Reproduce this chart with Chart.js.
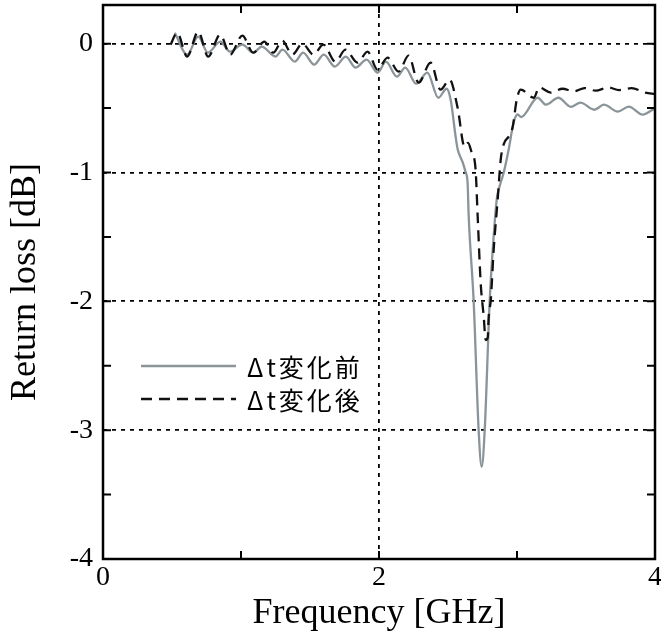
<!DOCTYPE html>
<html>
<head>
<meta charset="utf-8">
<script src="https://cdn.jsdelivr.net/npm/chart.js@4.4.1/dist/chart.umd.min.js"></script>
<style>
  body { margin: 0; background: #fff; }
  canvas { display: block; }
</style>
</head>
<body>
<canvas id="rl-chart" width="661" height="641"></canvas>
<script>
// Δt変化前 (gray, solid)
const freqBefore = [0.52, 0.61, 0.69, 0.76, 0.85, 0.92, 1.01, 1.09, 1.15, 1.25, 1.30, 1.39, 1.45, 1.53, 1.60, 1.68, 1.76, 1.83, 1.91, 1.99,
    2.05, 2.13, 2.19, 2.27, 2.35, 2.43, 2.49, 2.52, 2.555, 2.57, 2.606, 2.628, 2.642, 2.65, 2.686, 2.722, 2.744, 2.766, 2.802, 2.824,
    2.853, 2.868, 2.904, 2.94, 2.976, 3.005, 3.03, 3.15, 3.21, 3.30, 3.39, 3.46, 3.56, 3.63, 3.73, 3.81, 3.91, 4.0];
const lossBefore = [0.085, -0.085, 0.054, -0.07, 0.016, -0.062, -0.008, -0.07, -0.023, -0.10, -0.047, -0.14, -0.07, -0.163, -0.085, -0.178, -0.101, -0.186, -0.124, -0.225,
    -0.14, -0.256, -0.186, -0.311, -0.225, -0.42, -0.35, -0.44, -0.72, -0.82, -0.92, -1.0, -1.08, -1.34, -2.0, -3.0, -3.285, -3.0, -2.0, -1.6,
    -1.21, -1.13, -1.0, -0.82, -0.61, -0.55, -0.57, -0.42, -0.474, -0.42, -0.49, -0.458, -0.513, -0.474, -0.528, -0.489, -0.551, -0.50];

// Δt変化後 (black, dashed)
const freqAfter = [0.49, 0.537, 0.61, 0.69, 0.762, 0.849, 0.922, 1.009, 1.089, 1.169, 1.234, 1.299, 1.372, 1.445, 1.525, 1.597, 1.684, 1.757, 1.844, 1.917,
    1.989, 2.062, 2.142, 2.214, 2.287, 2.374, 2.446, 2.512, 2.57, 2.62, 2.645, 2.67, 2.70, 2.715, 2.737, 2.759, 2.773, 2.788, 2.795, 2.81,
    2.831, 2.86, 2.882, 2.904, 2.94, 2.969, 2.998, 3.027, 3.122, 3.16, 3.245, 3.33, 3.41, 3.49, 3.57, 3.66, 3.74, 3.83, 3.93, 4.0];
const lossAfter = [-0.008, 0.085, -0.10, 0.093, -0.10, 0.07, -0.085, 0.062, -0.07, 0.016, -0.07, 0.023, -0.085, 0.0, -0.085, -0.008, -0.14, -0.047, -0.148, -0.062,
    -0.202, -0.109, -0.217, -0.093, -0.303, -0.148, -0.357, -0.28, -0.50, -0.80, -0.77, -0.84, -0.98, -1.34, -1.86, -2.12, -2.30, -2.28, -2.12, -1.99,
    -1.60, -1.21, -0.90, -0.78, -0.72, -0.645, -0.435, -0.357, -0.42, -0.34, -0.38, -0.35, -0.37, -0.345, -0.365, -0.34, -0.36, -0.345, -0.38, -0.39];

const xTicks = [0, 1, 2, 3, 4];
const xLabels = ['0', '', '2', '', '4'];
const yTicks = [-4, -3.5, -3, -2.5, -2, -1.5, -1, -0.5, 0];
const yLabels = ['-4', '', '-3', '', '-2', '', '-1', '', '0'];
const xGrid = [2];
const yGrid = [-3, -2, -1, 0];

const serif = '"Liberation Serif", "Times New Roman", serif';

const toPoints = (xs, ys) => xs.map((v, i) => ({ x: v, y: ys[i] }));

// 枠と内向きの目盛り
const framePlugin = {
    id: 'frame',
    afterDatasetsDraw(chart) {
        const { ctx, chartArea: a, scales: { x, y } } = chart;
        ctx.save();
        ctx.strokeStyle = '#000';
        ctx.lineWidth = 2;
        ctx.beginPath();
        xTicks.forEach(v => {
            const px = x.getPixelForValue(v);
            ctx.moveTo(px, a.bottom); ctx.lineTo(px, a.bottom - 8);
            ctx.moveTo(px, a.top); ctx.lineTo(px, a.top + 8);
        });
        yTicks.forEach(v => {
            const py = y.getPixelForValue(v);
            ctx.moveTo(a.left, py); ctx.lineTo(a.left + 8, py);
            ctx.moveTo(a.right, py); ctx.lineTo(a.right - 8, py);
        });
        ctx.stroke();
        ctx.lineWidth = 2.5;
        ctx.strokeRect(a.left, a.top, a.right - a.left, a.bottom - a.top);
        ctx.restore();
    }
};

// 凡例 (グラフ内)
const legendPlugin = {
    id: 'insideLegend',
    afterDraw(chart) {
        const { ctx } = chart;
        const left = 141, top = 366, gap = 33;
        ctx.save();
        chart.data.datasets.forEach((ds, i) => {
            const yy = top + i * gap;
            ctx.strokeStyle = ds.borderColor;
            ctx.lineWidth = ds.borderWidth;
            ctx.setLineDash(ds.borderDash || []);
            ctx.beginPath();
            ctx.moveTo(left, yy);
            ctx.lineTo(left + 95, yy);
            ctx.stroke();
            ctx.setLineDash([]);
            ctx.fillStyle = '#000';
            ctx.font = '25px "Noto Sans CJK JP"';
            ctx.letterSpacing = '3px';
            ctx.textBaseline = 'middle';
            ctx.fillText(ds.label, left + 106, yy + 1);
        });
        ctx.restore();
    }
};

const noPad = s => { s.paddingTop = 0; s.paddingBottom = 0; s.paddingLeft = 0; s.paddingRight = 0; };

const ctx = document.getElementById('rl-chart').getContext('2d');
const rlChart = new Chart(ctx, {
    type: 'line',
    data: {
        datasets: [
            {
                label: 'Δt変化前',
                data: toPoints(freqBefore, lossBefore),
                borderColor: '#8b9499',
                borderWidth: 2.3,
                pointRadius: 0,
                cubicInterpolationMode: 'monotone',
                order: 1
            },
            {
                label: 'Δt変化後',
                data: toPoints(freqAfter, lossAfter),
                borderColor: '#111',
                borderWidth: 2.3,
                borderDash: [11, 7],
                pointRadius: 0,
                cubicInterpolationMode: 'monotone',
                order: 0
            }
        ]
    },
    options: {
        responsive: false,
        animation: false,
        devicePixelRatio: 1,
        layout: { padding: { top: 5, right: 6, left: 0, bottom: 0 } },
        plugins: { legend: { display: false }, tooltip: { enabled: false } },
        scales: {
            x: {
                type: 'linear',
                min: 0,
                max: 4,
                afterBuildTicks: s => { s.ticks = xTicks.map(v => ({ value: v })); },
                afterFit: s => { s.height = 82; noPad(s); },
                ticks: {
                    color: '#000',
                    padding: 2,
                    maxRotation: 0,
                    font: { family: serif, size: 28 },
                    callback: (v, i) => xLabels[i]
                },
                grid: {
                    drawTicks: false,
                    lineWidth: 1.8,
                    borderDash: [4, 5],
                    color: c => (c.tick && xGrid.includes(c.tick.value)) ? '#000' : 'rgba(0,0,0,0)'
                },
                border: { display: false, dash: [4, 5] },
                title: {
                    display: true,
                    text: 'Frequency [GHz]',
                    color: '#000',
                    font: { family: serif, size: 36 },
                    padding: { top: 0, bottom: 6 }
                }
            },
            y: {
                type: 'linear',
                min: -4,
                max: 0.3,
                afterBuildTicks: s => { s.ticks = yTicks.map(v => ({ value: v })); },
                afterFit: s => { s.width = 103; noPad(s); },
                ticks: {
                    color: '#000',
                    padding: 10,
                    font: { family: serif, size: 28 },
                    callback: (v, i) => yLabels[i]
                },
                grid: {
                    drawTicks: false,
                    lineWidth: 1.8,
                    borderDash: [4, 5],
                    color: c => (c.tick && yGrid.includes(c.tick.value)) ? '#000' : 'rgba(0,0,0,0)'
                },
                border: { display: false, dash: [4, 5] },
                title: {
                    display: true,
                    text: 'Return loss [dB]',
                    color: '#000',
                    font: { family: serif, size: 36 },
                    padding: { top: 4, bottom: 0 }
                }
            }
        }
    },
    plugins: [framePlugin, legendPlugin]
});
</script>
</body>
</html>
